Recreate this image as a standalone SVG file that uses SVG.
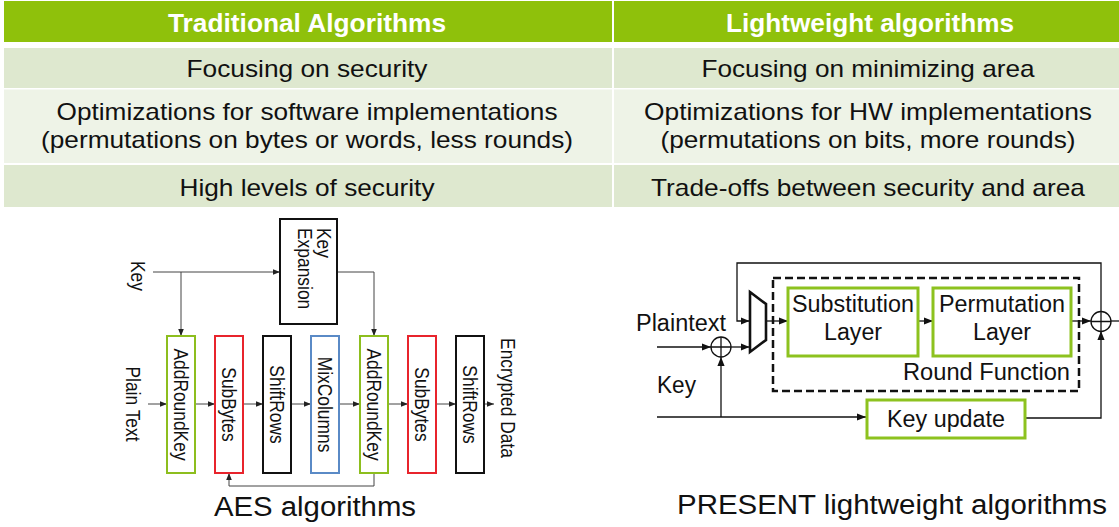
<svg xmlns="http://www.w3.org/2000/svg" width="1119" height="527" viewBox="0 0 1119 527">
<style>
.t{font-family:"Liberation Sans",Arial,sans-serif;fill:#111}
.hd{font-family:"Liberation Sans",Arial,sans-serif;font-weight:bold;fill:#fff;font-size:25.5px}
.tb{font-size:24px}
.hdr{fill:#8FC10B}
.dk{fill:#DEE8CF}
.lt{fill:#EEF3E7}
.aes{font-size:17.4px}
.box{fill:#fff;stroke-width:2}
.g{stroke:#8DBE1E}
.r{stroke:#E8242C}
.k{stroke:#111}
.b{stroke:#5A8AC6}
.cn{fill:none;stroke:#444;stroke-width:1}
.pc{fill:none;stroke:#111;stroke-width:1.3}
.pbox{fill:#fff;stroke:#8DC21F;stroke-width:3}
.pt{font-size:23px}
</style>
<defs>
<marker id="a" viewBox="0 0 10 10" refX="10" refY="5" markerWidth="7" markerHeight="7" markerUnits="userSpaceOnUse" orient="auto"><path d="M0,1 L10,5 L0,9 z" fill="#222"/></marker>
<marker id="p" viewBox="0 0 10 10" refX="10" refY="5" markerWidth="9" markerHeight="9" markerUnits="userSpaceOnUse" orient="auto"><path d="M0,1 L10,5 L0,9 z" fill="#111"/></marker>
</defs>

<g id="table">
<rect class="hdr" x="4" y="1" width="608" height="41"/>
<rect class="hdr" x="614" y="1" width="505" height="41"/>
<rect class="dk" x="4" y="48" width="608" height="40"/>
<rect class="dk" x="614" y="48" width="505" height="40"/>
<rect class="lt" x="4" y="89.5" width="608" height="73.5"/>
<rect class="lt" x="614" y="89.5" width="505" height="73.5"/>
<rect class="dk" x="4" y="165" width="608" height="42"/>
<rect class="dk" x="614" y="165" width="505" height="42"/>
<text class="hd" x="307" y="32" text-anchor="middle" textLength="278" lengthAdjust="spacingAndGlyphs">Traditional Algorithms</text>
<text class="hd" x="870" y="32" text-anchor="middle" textLength="288" lengthAdjust="spacingAndGlyphs">Lightweight algorithms</text>
<text class="t tb" x="307" y="77" text-anchor="middle" textLength="241" lengthAdjust="spacingAndGlyphs">Focusing on security</text>
<text class="t tb" x="868" y="77" text-anchor="middle" textLength="333" lengthAdjust="spacingAndGlyphs">Focusing on minimizing area</text>
<text class="t tb" x="307" y="119.5" text-anchor="middle" textLength="501" lengthAdjust="spacingAndGlyphs">Optimizations for software implementations</text>
<text class="t tb" x="307" y="147.5" text-anchor="middle" textLength="532" lengthAdjust="spacingAndGlyphs">(permutations on bytes or words, less rounds)</text>
<text class="t tb" x="868" y="119.5" text-anchor="middle" textLength="448" lengthAdjust="spacingAndGlyphs">Optimizations for HW implementations</text>
<text class="t tb" x="868" y="147.5" text-anchor="middle" textLength="415" lengthAdjust="spacingAndGlyphs">(permutations on bits, more rounds)</text>
<text class="t tb" x="307" y="196" text-anchor="middle" textLength="255" lengthAdjust="spacingAndGlyphs">High levels of security</text>
<text class="t tb" x="868" y="196" text-anchor="middle" textLength="434" lengthAdjust="spacingAndGlyphs">Trade-offs between security and area</text>
</g>

<g id="aes-connectors">
<path class="cn" d="M153,272 H280" marker-end="url(#a)"/>
<path class="cn" d="M181,272 V336" marker-end="url(#a)"/>
<path class="cn" d="M337,272 H374 V336" marker-end="url(#a)"/>
<path class="cn" d="M148,404 H167" marker-end="url(#a)"/>
<path class="cn" d="M195,404 H215" marker-end="url(#a)"/>
<path class="cn" d="M243,404 H263" marker-end="url(#a)"/>
<path class="cn" d="M291,404 H311" marker-end="url(#a)"/>
<path class="cn" d="M339,404 H360" marker-end="url(#a)"/>
<path class="cn" d="M388,404 H408" marker-end="url(#a)"/>
<path class="cn" d="M436,404 H456" marker-end="url(#a)"/>
<path class="cn" d="M484,404 H494" marker-end="url(#a)"/>
<path class="cn" d="M374,473 V486 H229 V473" marker-end="url(#a)"/>
</g>

<g id="aes-labels">
<text class="t aes" transform="translate(138,276) rotate(90) scale(1,1.15)" text-anchor="middle" dominant-baseline="central">Key</text>
<text class="t aes" font-size="16.5" transform="translate(133,404) rotate(90) scale(1,1.15)" text-anchor="middle" dominant-baseline="central">Plain Text</text>
<text class="t aes" transform="translate(507.5,398) rotate(90) scale(1,1.15)" text-anchor="middle" dominant-baseline="central">Encrypted Data</text>
</g>

<g id="key-expansion">
<rect class="box k" x="280" y="219" width="57" height="105"/>
<text class="t aes" transform="translate(316.5,228) rotate(90) scale(1,1.15)">Key</text>
<text class="t aes" transform="translate(298,228) rotate(90) scale(1,1.15)">Expansion</text>
</g>
<g id="addroundkey1">
<rect class="box g" x="167" y="336" width="28" height="137"/>
<text class="t aes" transform="translate(181,404.5) rotate(90) scale(1,1.18)" text-anchor="middle" dominant-baseline="central">AddRoundKey</text>
</g>
<g id="subbytes1">
<rect class="box r" x="215" y="336" width="28" height="137"/>
<text class="t aes" transform="translate(229,404.5) rotate(90) scale(1,1.18)" text-anchor="middle" dominant-baseline="central">SubBytes</text>
</g>
<g id="shiftrows1">
<rect class="box k" x="263" y="336" width="28" height="137"/>
<text class="t aes" transform="translate(277,404.5) rotate(90) scale(1,1.18)" text-anchor="middle" dominant-baseline="central">ShiftRows</text>
</g>
<g id="mixcolumns">
<rect class="box b" x="311" y="336" width="28" height="137"/>
<text class="t aes" transform="translate(325,404.5) rotate(90) scale(1,1.18)" text-anchor="middle" dominant-baseline="central">MixColumns</text>
</g>
<g id="addroundkey2">
<rect class="box g" x="360" y="336" width="28" height="137"/>
<text class="t aes" transform="translate(374,404.5) rotate(90) scale(1,1.18)" text-anchor="middle" dominant-baseline="central">AddRoundKey</text>
</g>
<g id="subbytes2">
<rect class="box r" x="408" y="336" width="28" height="137"/>
<text class="t aes" transform="translate(422,404.5) rotate(90) scale(1,1.18)" text-anchor="middle" dominant-baseline="central">SubBytes</text>
</g>
<g id="shiftrows2">
<rect class="box k" x="456" y="336" width="28" height="137"/>
<text class="t aes" transform="translate(470,404.5) rotate(90) scale(1,1.18)" text-anchor="middle" dominant-baseline="central">ShiftRows</text>
</g>
<text class="t" x="315" y="516" font-size="27" text-anchor="middle" textLength="202" lengthAdjust="spacingAndGlyphs">AES algorithms</text>

<g id="present-connectors">
<path class="pc" d="M1101,312 V263 H737 V321 H749.5" marker-end="url(#p)"/>
<path class="pc" d="M657,347 H711" marker-end="url(#p)"/>
<path class="pc" d="M731,347 H749.5" marker-end="url(#p)"/>
<path class="pc" d="M657,417 H866" marker-end="url(#p)"/>
<path class="pc" d="M721,417 V357" marker-end="url(#p)"/>
<path class="pc" d="M766,321 H788" marker-end="url(#p)"/>
<path class="pc" d="M918,321 H933" marker-end="url(#p)"/>
<path class="pc" d="M1071,321 H1091" marker-end="url(#p)"/>
<path class="pc" d="M1111,321 H1119"/>
<path class="pc" d="M1025,418 H1101 V331" marker-end="url(#p)"/>
</g>

<g id="xor1">
<circle cx="721" cy="347" r="10" fill="#fff" stroke="#111" stroke-width="1.3"/>
<path d="M711,347 H731 M721,337 V357" stroke="#111" stroke-width="1.3"/>
</g>
<g id="xor2">
<circle cx="1101" cy="321.5" r="10" fill="#fff" stroke="#111" stroke-width="1.3"/>
<path d="M1091,321.5 H1111 M1101,311.5 V331.5" stroke="#111" stroke-width="1.3"/>
</g>
<g id="mux">
<polygon points="750,292 766,304 766,340 750,352" fill="#fff" stroke="#111" stroke-width="2.6" stroke-linejoin="miter"/>
</g>
<g id="round-function">
<rect x="773" y="278" width="306" height="113" fill="none" stroke="#111" stroke-width="2.5" stroke-dasharray="8,4"/>
<text class="t pt" x="1070" y="380" text-anchor="end" textLength="167" lengthAdjust="spacingAndGlyphs">Round Function</text>
</g>
<g id="substitution-layer">
<rect class="pbox" x="788" y="288" width="130" height="68"/>
<text class="t pt" x="853" y="312" text-anchor="middle" textLength="122" lengthAdjust="spacingAndGlyphs">Substitution</text>
<text class="t pt" x="853" y="339.5" text-anchor="middle" textLength="58" lengthAdjust="spacingAndGlyphs">Layer</text>
</g>
<g id="permutation-layer">
<rect class="pbox" x="933" y="288" width="138" height="68"/>
<text class="t pt" x="1002" y="312" text-anchor="middle" textLength="126" lengthAdjust="spacingAndGlyphs">Permutation</text>
<text class="t pt" x="1002" y="339.5" text-anchor="middle" textLength="58" lengthAdjust="spacingAndGlyphs">Layer</text>
</g>
<g id="key-update">
<rect class="pbox" x="867" y="400" width="158" height="38"/>
<text class="t pt" x="946" y="427" text-anchor="middle" textLength="118" lengthAdjust="spacingAndGlyphs">Key update</text>
</g>
<g id="present-labels">
<text class="t pt" x="636" y="331" textLength="90" lengthAdjust="spacingAndGlyphs">Plaintext</text>
<text class="t pt" x="657" y="393" textLength="39" lengthAdjust="spacingAndGlyphs">Key</text>
</g>
<text class="t" x="892" y="514" font-size="27" text-anchor="middle" textLength="430" lengthAdjust="spacingAndGlyphs">PRESENT lightweight algorithms</text>
</svg>
